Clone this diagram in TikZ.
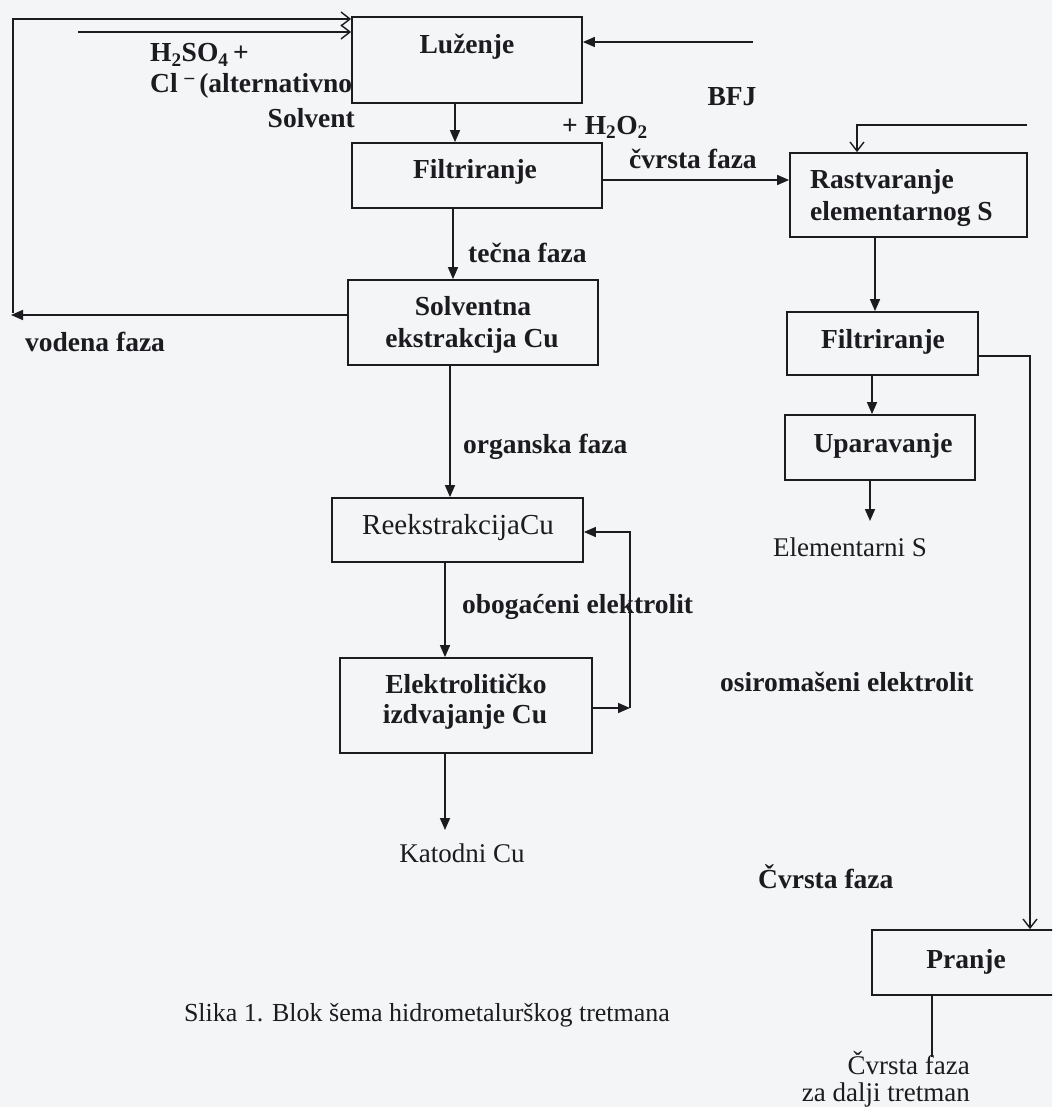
\documentclass[tikz,border=0pt]{standalone}
\usepackage{fontspec}
\setmainfont{Liberation Serif}
\usetikzlibrary{arrows.meta}
\definecolor{paper}{RGB}{244,245,247}
\definecolor{ink}{RGB}{28,28,32}
\begin{document}
\begin{tikzpicture}[x=1pt,y=-1pt,
  box/.style={draw=ink, line width=1.8pt, fill=paper, inner sep=0pt},
  lbl/.style={text=ink, font=\fontsize{27.5}{30}\selectfont\bfseries, inner sep=0pt},
  txt/.style={text=ink, font=\fontsize{27}{30}\selectfont, inner sep=0pt},
  conn/.style={draw=ink, line width=1.6pt},
  fa/.style={conn, -{Triangle[length=12pt,width=10pt]}},
  ba/.style={conn, -{Straight Barb[length=9pt,width=14pt,line width=1.4pt]}},
]
\clip (0,0) rectangle (1052,1107);
\fill[paper] (0,0) rectangle (1052,1107);

% ---------- free labels (drawn first, boxes cover overflow) ----------
\node[lbl, anchor=base west] (lh2so4) at (150,62) {H\textsubscript{2}SO\textsubscript{4}\,+};
\node[lbl, anchor=base west] (lcl) at (150,93) {Cl \textsuperscript{–}\,(alternativno};
\node[lbl, anchor=east] (lsolvent) at (355,118) {Solvent};
\node[lbl, anchor=west] (lh2o2) at (562,127) {+ H\textsubscript{2}O\textsubscript{2}};
\node[lbl] (lbfj) at (732,97) {BFJ};
\node[lbl, anchor=west] (lcvrsta1) at (629,159) {čvrsta faza};
\node[lbl, anchor=west] (ltecna) at (468,253) {tečna faza};
\node[lbl, anchor=west] (lvodena) at (25,342) {vodena faza};
\node[lbl, anchor=west] (lorg) at (463,447) {organska faza};
\node[lbl, anchor=west] (lobog) at (462,607) {obogaćeni elektrolit};
\node[lbl, anchor=west] (losir) at (720,682) {osiromašeni elektrolit};
\node[lbl, anchor=west] (lcvrsta2) at (758,877) {Čvrsta faza};

% ---------- boxes ----------
\node[box, minimum width=230pt, minimum height=86pt] (luz) at (467,60) {};
\node[lbl] (tluz) at (467,47) {Luženje};
\node[box, minimum width=250pt, minimum height=65pt] (filt1) at (477,175.5) {};
\node[lbl] (tfilt1) at (475,172) {Filtriranje};
\node[box, minimum width=237pt, minimum height=84pt] (rast) at (908.5,195) {};
\node[lbl, anchor=west] (trast1) at (810,182) {Rastvaranje};
\node[lbl, anchor=west] (trast2) at (810,214) {elementarnog S};
\node[box, minimum width=250pt, minimum height=85pt] (solv) at (473,322.5) {};
\node[lbl] (tsolv1) at (473,306) {Solventna};
\node[lbl] (tsolv2) at (472,341) {ekstrakcija Cu};
\node[box, minimum width=251pt, minimum height=64pt] (reek) at (457.5,530) {};
\node[txt, font=\fontsize{29}{30}\selectfont] (treek) at (458,528) {ReekstrakcijaCu};
\node[box, minimum width=252pt, minimum height=95pt] (elek) at (466,705.5) {};
\node[lbl] (telek1) at (466,684) {Elektrolitičko};
\node[lbl] (telek2) at (465,717) {izdvajanje Cu};
\node[box, minimum width=191pt, minimum height=63pt] (filt2) at (882.5,343.5) {};
\node[lbl] (tfilt2) at (883,342) {Filtriranje};
\node[box, minimum width=190pt, minimum height=65pt] (upar) at (880,447.5) {};
\node[lbl] (tupar) at (883,446) {Uparavanje};
\node[box, minimum width=198pt, minimum height=65pt] (pranje) at (971,962.5) {};
\node[lbl] (tpranje) at (966,962) {Pranje};

% ---------- output texts ----------
\node[txt] (katodni) at (462,853) {Katodni Cu};
\node[txt] (elemS) at (850,547) {Elementarni S};
\node[txt, anchor=base east] (cvrsta3) at (970,1074) {Čvrsta faza};
\node[txt, anchor=base east] (dalji) at (970,1101) {za dalji tretman};
\node[txt, font=\fontsize{26}{28}\selectfont] (caption) at (427,1015) {Slika 1. Blok šema hidrometalurškog tretmana};

% ---------- helper coordinates ----------
\coordinate (tl) at (13,19);
\coordinate (vl) at (13,313);
\coordinate (vtip) at (11,315);
\coordinate (h2in) at (78,32);
\coordinate (bfj) at (753,42);
\coordinate (y180) at (0,180);
\coordinate (rin) at (1027,125);
\coordinate (rinc) at (857,125);
\coordinate (x455) at (455,0);
\coordinate (x453) at (453,0);
\coordinate (x450) at (450,0);
\coordinate (x445) at (445,0);
\coordinate (kattip) at (445,830);
\coordinate (fb) at (630,708);
\coordinate (fbt) at (630,532);
\coordinate (x875) at (875,0);
\coordinate (x872) at (872,0);
\coordinate (x870) at (870,0);
\coordinate (stip) at (870,521);
\coordinate (pr) at (1030,356);
\coordinate (x932) at (932,0);
\coordinate (outend) at (932,1057);

% ---------- connectors ----------
\draw[ba] (vl) -- (tl) -- (luz.west |- tl);
\draw[ba] (h2in) -- (luz.west |- h2in);
\draw[fa] (solv.west |- vtip) -- (vtip);
\draw[fa] (bfj) -- (luz.east |- bfj);
\draw[fa] (luz.south -| x455) -- (filt1.north -| x455);
\draw[fa] (filt1.east |- y180) -- (rast.west |- y180);
\draw[ba] (rin) -- (rinc) -- (rinc |- rast.north);
\draw[fa] (filt1.south -| x453) -- (solv.north -| x453);
\draw[fa] (solv.south -| x450) -- (reek.north -| x450);
\draw[fa] (reek.south -| x445) -- (elek.north -| x445);
\draw[fa] (elek.south -| x445) -- (kattip);
\draw[fa] (elek.east |- fb) -- (fb);
\draw[fa] (fb) -- (fbt) -- (reek.east |- fbt);
\draw[fa] (rast.south -| x875) -- (filt2.north -| x875);
\draw[fa] (filt2.south -| x872) -- (upar.north -| x872);
\draw[fa] (upar.south -| x870) -- (stip);
\draw[ba] (filt2.east |- pr) -- (pr) -- (pr |- pranje.north);
\draw[conn] (pranje.south -| x932) -- (outend);
\end{tikzpicture}
\end{document}
